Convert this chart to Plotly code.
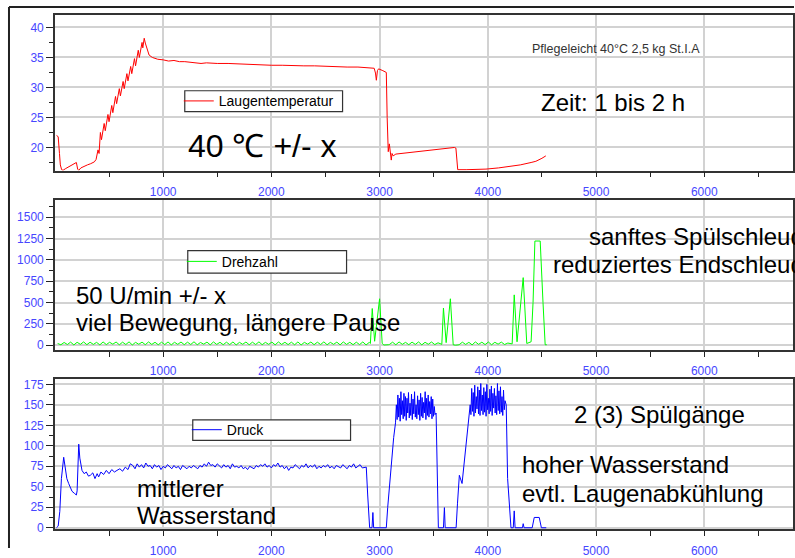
import plotly.graph_objects as go

# ---------------- data ----------------
# Laugentemperatur (°C) vs time (s)
temp_t = [15, 30, 42, 50, 62, 75, 100, 130, 160, 185, 198, 210, 220, 240, 270, 300, 330, 364,
          380, 389, 398, 408, 420, 430, 455, 465, 490, 500, 525, 535, 560, 570, 595, 605,
          630, 640, 665, 675, 700, 710, 735, 745, 770, 780, 805, 812, 825, 835, 850, 870,
          900, 950, 1000, 1050, 1100, 1150, 1200, 1250, 1300, 1350, 1400, 1450, 1500, 1600,
          1700, 1800, 1900, 2000, 2100, 2200, 2300, 2400, 2500, 2600, 2700, 2800, 2900,
          2950, 2962, 2970, 2980, 2991, 3030, 3062, 3070, 3080, 3090, 3100, 3108, 3115,
          3125, 3150, 3200, 3300, 3400, 3500, 3600, 3691, 3705, 3722, 3800, 3900, 3983,
          4100, 4200, 4300, 4400, 4444, 4500, 4536]
temp_v = [22.0, 21.8, 19.0, 17.1, 16.3, 16.2, 16.5, 16.8, 17.0, 17.3, 17.5, 16.4, 16.2, 16.6,
          16.9, 17.1, 17.3, 17.6, 18.0, 19.2, 19.6, 19.0, 22.5, 21.3, 24.0, 22.8, 25.5, 24.3,
          27.0, 25.8, 28.5, 27.3, 29.8, 28.6, 31.0, 29.8, 32.3, 31.1, 33.5, 32.3, 34.8, 33.6,
          36.2, 35.0, 37.5, 36.6, 38.2, 37.4, 36.4, 35.4, 35.0, 34.7, 34.6, 34.4, 34.5, 34.3,
          34.3, 34.2, 34.2, 34.0, 34.1, 34.0, 34.0, 34.0, 33.9, 33.9, 33.8, 33.7, 33.7, 33.6,
          33.6, 33.6, 33.5, 33.5, 33.4, 33.4, 33.3, 33.2, 32.4, 31.2, 32.8, 33.1, 32.8, 32.5,
          25.0, 19.3, 20.6, 18.5, 17.9, 19.0, 18.6, 18.9, 19.0, 19.2, 19.4, 19.6, 19.8, 20.0,
          19.9, 16.3, 16.3, 16.3, 16.4, 16.6, 16.8, 17.1, 17.5, 17.7, 18.2, 18.6]

# Drehzahl (U/min): noisy 50 U/min band sampled every 30 s, plus spin spikes
rpm_band1 = [20, 5, 32, 8, 36, 3, 34, 10, 38, 6, 35, 9, 33, 4, 38, 7, 34, 12, 37, 5,
             35, 8, 39, 3, 33, 11, 36, 6, 38, 9, 34, 5, 35, 7, 38, 4, 34, 10, 37, 6,
             35, 8, 40, 5, 32, 12, 36, 4, 38, 9, 34, 6, 35, 7, 38, 3, 33, 11, 37, 5,
             35, 8, 39, 6, 33, 10, 36, 4, 38, 9, 34, 7, 35, 5, 38, 3, 33, 12, 37, 6,
             35, 8, 39, 5, 33, 10, 36, 4, 38, 9, 34, 6, 35, 7, 38, 3, 33]
rpm_band2 = [8, 35, 5, 38, 10, 33, 6, 36, 9, 38, 4, 34, 11, 37, 7, 28]
rpm_band3 = [6, 35, 9, 33, 4, 38, 10, 35, 7, 37, 5, 34, 12, 36, 8, 25]
rpm_spin1_t = [2915, 2932, 2954, 3000, 3024, 3040, 3060, 3080]
rpm_spin1_v = [20, 430, 46, 544, 20, 2, 0, 5]
rpm_spin2_t = [3575, 3590, 3615, 3654, 3680, 3700, 3725]
rpm_spin2_v = [10, 436, 30, 544, 5, 0, 3]
rpm_spin3_t = [4225, 4244, 4270, 4327, 4360, 4400, 4418, 4435, 4484, 4510, 4530, 4545]
rpm_spin3_v = [15, 590, 40, 792, 20, 40, 500, 1221, 1221, 500, 5, 5]

# Druck (pressure level)
p_start_t = [14, 30, 45, 60, 81, 95, 110, 127, 145, 158, 180, 198, 205, 220, 230, 250, 270,
             290, 310, 327, 350, 370, 390, 404, 425, 450, 475, 500, 525, 550, 573, 600,
             625, 650, 675, 696]
p_start_v = [0, 2, 20, 60, 86, 70, 60, 54, 48, 44.5, 42, 40, 45, 102, 85, 70, 66, 68, 63, 64,
             67, 60, 66, 62, 68, 65, 70, 66, 71, 68, 70, 72, 69, 74, 71, 78]
p_wash = [76, 72, 78, 74, 77, 73, 79, 75, 76, 72,
          77, 74, 76, 71, 75, 73, 77, 74, 72, 76,
          73, 75, 71, 76, 74, 72, 75, 73, 76, 74,
          72, 76, 74, 78, 75, 80, 76, 77, 74, 78,
          75, 73, 77, 74, 76, 72, 78, 74, 75, 73,
          76, 72, 74, 71, 75, 73, 72, 76, 74, 77,
          75, 78, 74, 76, 73, 77, 75, 79, 74, 76,
          72, 75, 70, 74, 73, 77, 75, 72, 76, 74,
          78, 73, 76, 74, 77, 72, 75, 73, 76, 74,
          77, 73, 75, 72, 76, 74, 73, 77, 75, 72,
          76, 74, 78, 73, 75, 77, 73, 74]
p_drain1_t = [2877, 2890, 2908, 2930, 2938, 2945, 3062, 3075, 3092, 3110, 3130, 3147]
p_drain1_v = [74, 40, 0, 0, 18.6, 0, 0, 25, 52, 80, 110, 128]
p_rinse1 = [150, 132, 162, 135, 158, 130, 166, 138, 155, 133,
            164, 136, 160, 131, 158, 140, 165, 134, 152, 137,
            163, 132, 157, 139, 166, 135, 150, 133, 161, 138,
            156, 131, 164, 136, 159, 134, 153, 140, 166, 132,
            158, 137, 162, 135, 154, 139, 160, 133, 157, 136,
            148, 138]
p_drain2_t = [3522, 3537, 3543, 3590, 3599, 3606, 3707, 3720, 3737, 3762, 3793, 3810, 3829]
p_drain2_v = [140, 40, 0, 0, 24.6, 0, 0, 30, 64, 54, 92, 110, 136]
p_rinse2 = [150, 138, 170, 142, 165, 136, 174, 140, 160, 145,
            172, 139, 168, 137, 176, 143, 162, 138, 171, 141,
            166, 136, 175, 144, 158, 139, 169, 142, 173, 137,
            164, 146, 170, 140, 161, 138, 176, 143, 167, 139,
            172, 141, 160, 137, 168, 144, 155]
p_end_t = [4170, 4183, 4214, 4235, 4244, 4252, 4320, 4327, 4335, 4410, 4429, 4475, 4495, 4540]
p_end_v = [150, 60, 0, 0, 20.6, 0, 0, 5, 0, 0, 12.6, 12.6, 0, 0]

x_ticks = [1000, 2000, 3000, 4000, 5000, 6000]
x_minor = [500, 1500, 2500, 3500, 4500, 5500, 6500]

# ---------------- assemble series ----------------
def sampled(start, step, vals):
    return [start + step * i for i in range(len(vals))]

rpm_t = (sampled(25, 30, rpm_band1) + rpm_spin1_t + sampled(3090, 30, rpm_band2)
         + rpm_spin2_t + sampled(3735, 30, rpm_band3) + rpm_spin3_t)
rpm_v = rpm_band1 + rpm_spin1_v + rpm_band2 + rpm_spin2_v + rpm_band3 + rpm_spin3_v

p_t = (p_start_t + sampled(720, 20, p_wash) + p_drain1_t + sampled(3155, 7, p_rinse1)
       + p_drain2_t + sampled(3837, 7, p_rinse2) + p_end_t)
p_v = p_start_v + p_wash + p_drain1_v + p_rinse1 + p_drain2_v + p_rinse2 + p_end_v

# ---------------- figure ----------------
W, H = 795, 558
FONT = "Arial, 'Liberation Sans', sans-serif"
BLUE_TXT = "#4646ff"

def px_x(x):
    return x / W

def px_y(y):
    return 1 - y / H

fig = go.Figure()
fig.add_trace(go.Scatter(x=temp_t, y=temp_v, mode="lines", name="Laugentemperatur",
                         line=dict(color="#ff0000", width=1), xaxis="x", yaxis="y",
                         legend="legend", showlegend=True))
fig.add_trace(go.Scatter(x=rpm_t, y=rpm_v, mode="lines", name="Drehzahl",
                         line=dict(color="#00ff00", width=1), xaxis="x2", yaxis="y2",
                         legend="legend2", showlegend=True))
fig.add_trace(go.Scatter(x=p_t, y=p_v, mode="lines", name="Druck",
                         line=dict(color="#0000ff", width=1), xaxis="x3", yaxis="y3",
                         legend="legend3", showlegend=True))

xdom = [55 / W, 794 / W]
panels = [  # (top px, bottom px, yrange, dtick, minor, tickvals)
    (13.3, 172.3, [16.15, 42.07], 5, 2.5, [20, 25, 30, 35, 40]),
    (202.7, 355.7, [-57, 1698], 250, 125, [0, 250, 500, 750, 1000, 1250, 1500]),
    (385.7, 539.0, [-2, 181], 25, 12.5, [0, 25, 50, 75, 100, 125, 150, 175]),
]

layout = dict(
    autosize=True, margin=dict(l=0, r=0, t=0, b=0),
    paper_bgcolor="white", plot_bgcolor="white",
    font=dict(family=FONT, color="black"),
    showlegend=True,
)
for i, (top, bot, yr, dt, mn, tv) in enumerate(panels):
    sfx = "" if i == 0 else str(i + 1)
    layout["xaxis" + sfx] = dict(
        domain=xdom, range=[0, 6820], anchor="y" + sfx,
        tickmode="array", tickvals=x_ticks,
        ticks="outside", ticklen=5, tickcolor="#222", tickwidth=1,
        minor=dict(tickmode="array", tickvals=x_minor, ticks="outside", ticklen=5,
                   tickcolor="#222", showgrid=False),
        showgrid=True, gridcolor="#d2d2d2", gridwidth=1.5,
        showline=True, mirror=True, linecolor="#333", linewidth=1.5,
        tickfont=dict(color=BLUE_TXT, size=12), ticklabelstandoff=4,
        zeroline=False, fixedrange=True,
    )
    layout["yaxis" + sfx] = dict(
        domain=[px_y(bot), px_y(top)], range=yr, anchor="x" + sfx,
        tickmode="array", tickvals=tv,
        ticks="outside", ticklen=7, tickcolor="#222", tickwidth=1,
        minor=dict(dtick=mn, tick0=0, ticks="outside", ticklen=4, tickcolor="#222",
                   showgrid=False),
        showgrid=True, gridcolor="#d2d2d2", gridwidth=1.5,
        showline=True, mirror=True, linecolor="#333", linewidth=1.5,
        tickfont=dict(color=BLUE_TXT, size=12),
        zeroline=False, fixedrange=True,
    )

fig.update_layout(**layout)

# legends (one per panel)
leg_common = dict(bgcolor="rgba(0,0,0,0)", borderwidth=0, font=dict(size=14, family=FONT),
                  xanchor="left", yanchor="middle", itemwidth=30, itemclick=False,
                  itemdoubleclick=False, visible=True)
fig.update_layout(
    legend=dict(x=px_x(179), y=px_y(101.5), **leg_common),
    legend2=dict(x=px_x(182), y=px_y(265.5), **leg_common),
    legend3=dict(x=px_x(187), y=px_y(437.5), **leg_common),
)

# legend frames
for (x0, y0, x1, y1) in [(185, 90.7, 343, 112), (188, 254, 347, 277), (193, 427, 351, 448)]:
    fig.add_shape(type="rect", xref="paper", yref="paper",
                  x0=px_x(x0), x1=px_x(x1), y0=px_y(y1), y1=px_y(y0),
                  line=dict(color="#333", width=1.2), fillcolor="white", layer="above")

# outer frame of the slide
fig.add_shape(type="line", xref="paper", yref="paper", x0=px_x(9), x1=1.0,
              y0=px_y(5), y1=px_y(5), line=dict(color="#222", width=2))
fig.add_shape(type="line", xref="paper", yref="paper", x0=px_x(9), x1=px_x(9),
              y0=0, y1=px_y(5), line=dict(color="#222", width=2))

def note(text, x, y, size=24, anchor="left", color="black"):
    fig.add_annotation(text=text, xref="paper", yref="paper", x=px_x(x), y=px_y(y),
                       xanchor=anchor, yanchor="middle", showarrow=False,
                       font=dict(size=size, color=color, family=FONT))

note("Pflegeleicht 40°C 2,5 kg St.I.A", 617, 48, size=12.5, anchor="center", color="#333")
note("Zeit: 1 bis 2 h", 614, 103, anchor="center")
note("40 ℃ +/- x", 263, 147, size=32, anchor="center")
note("50 U/min +/- x", 74, 300)
note("viel Bewegung, längere Pause", 74, 328)
note("sanftes Spülschleudern", 588, 240)
note("reduziertes Endschleudern", 552, 268)
note("2 (3) Spülgänge", 573, 422)
note("hoher Wasserstand", 521, 473)
note("evtl. Laugenabkühlung", 521, 502)
note("mittlerer", 135, 497)
note("Wasserstand", 135, 525)

page_fix = (
    "document.documentElement.style.margin='0';"
    "document.documentElement.style.overflow='hidden';"
    "document.body.style.margin='0';"
    "document.body.style.overflow='hidden';"
)
fig.write_html("out.html", config={"displayModeBar": False, "responsive": True},
               default_width="100vw", default_height="100vh", post_script=page_fix)
